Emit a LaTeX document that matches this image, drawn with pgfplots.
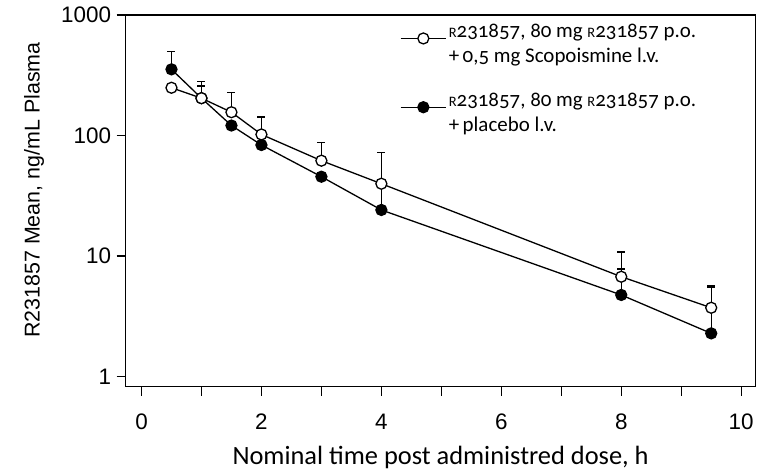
\documentclass[border=0pt]{standalone}
\usepackage{fontspec}
\setmainfont{Liberation Sans}
\newfontfamily\hum[Numbers=OldStyle]{Carlito}
\newcommand\scR{{\fontsize{14.5}{14.5}\selectfont R}}
\usepackage{pgfplots}
\pgfplotsset{compat=1.18}

\begin{document}
\begin{tikzpicture}
\begin{axis}[
  scale only axis,
  width=630bp, height=371.7bp,
  ymode=log, ymin=0.823, ymax=1000,
  xmin=-0.265, xmax=10.24,
  xtick={0,2,...,10}, minor xtick={1,3,...,9},
  ytick={1,10,100,1000}, yticklabels={1,10,100,1000},
  yminorticks=false,
  xtick pos=bottom, ytick pos=left,
  tick align=outside,
  major tick length=9bp, minor tick length=9bp,
  every tick/.style={black, line width=1.3bp},
  axis line style={line width=1.3bp},
  /pgf/number format/assume math mode=true,
  tick label style={font=\fontsize{22.5}{26}\selectfont},
  xticklabel style={yshift=-15bp},
  yticklabel style={xshift=-2bp},
  xlabel={\hum Nominal time post administred dose, h},
  ylabel={R231857 Mean, ng/mL Plasma},
  xlabel style={font=\fontsize{26.5}{30}\selectfont, at={(axis description cs:0.5,-0.19)}, anchor=center},
  ylabel style={font=\fontsize{21.5}{25}\selectfont, at={(axis description cs:-0.1454,0.529)}, anchor=center},
  legend style={draw=none, fill=none, inner sep=0pt, outer sep=0pt,
    at={(axis description cs:0.4356,0.981)}, anchor=north west,
    font=\hum\fontsize{21}{25}\selectfont,
    cells={align=left, anchor=west, inner sep=0pt},
    row sep=25bp, /tikz/every even column/.append style={column sep=3bp}},
  legend image code/.code={%
    \draw[#1, mark repeat=2, mark phase=2] plot coordinates {(0bp,5.5bp) (22.7bp,5.5bp) (45.5bp,5.5bp)};},
  error bars/y dir=plus, error bars/y explicit,
  error bars/error bar style={line width=1.3bp, black},
  error bars/error mark options={rotate=90, mark size=4bp, line width=1.3bp, black},
]
% legend
\addlegendimage{black, line width=1.3bp, mark=*, mark size=5.5bp, mark options={fill=white, line width=1.3bp}}
\addlegendentry{\scR231857, 80 mg \scR231857 p.o.\\+\,0,5 mg Scopoismine l.v.}
\addlegendimage{black, line width=1.3bp, mark=*, mark size=5.5bp, mark options={fill=black, line width=1.3bp}}
\addlegendentry{\scR231857, 80 mg \scR231857 p.o.\\+\,placebo l.v.}
% placebo (filled)
\addplot[forget plot, black, line width=1.3bp, mark=*, mark size=5.5bp, mark options={fill=black, line width=1.3bp}]
  coordinates {
  (0.5,354) +- (0,142)
  (1,204) +- (0,54)
  (1.5,121) +- (0,0)
  (2,83.4) +- (0,0)
  (3,45.5) +- (0,0)
  (4,24.1) +- (0,15.7)
  (8,4.75) +- (0,3.05)
  (9.5,2.28) +- (0,3.2)
  };
% scopolamine (open)
\addplot[forget plot, black, line width=1.3bp, mark=*, mark size=5.5bp, mark options={fill=white, line width=1.3bp}]
  coordinates {
  (0.5,249) +- (0,0)
  (1,204) +- (0,75)
  (1.5,156) +- (0,72)
  (2,102) +- (0,40.5)
  (3,61.8) +- (0,26.1)
  (4,39.8) +- (0,32.8)
  (8,6.73) +- (0,4.07)
  (9.5,3.72) +- (0,1.92)
  };
\end{axis}
\pgfresetboundingbox
\path (current axis.south west) ++(-125.6bp,-89.3bp) rectangle ++(771bp,476bp);
\end{tikzpicture}
\end{document}
